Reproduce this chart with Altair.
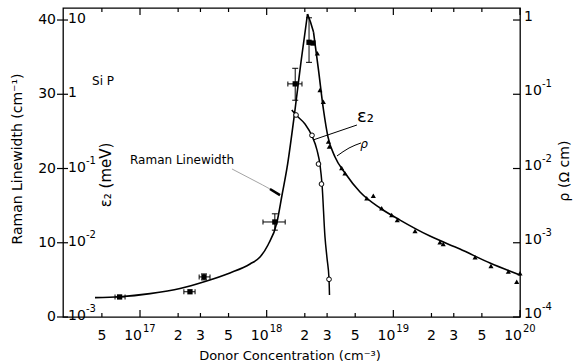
import altair as alt
import pandas as pd

# ---------------- Raman linewidth of the zone-centre phonon (cm^-1) ----------------
raman_conc = [6.9e16, 2.48e17, 3.2e17, 1.16e18, 1.68e18, 2.16e18, 2.32e18]
raman_width = [2.7, 3.4, 5.4, 12.8, 31.4, 37.0, 36.9]
raman_conc_lo = [6.35e16, 2.22e17, 2.93e17, 9.35e17, 1.47e18, 2.16e18, 2.32e18]
raman_conc_hi = [7.62e16, 2.72e17, 3.57e17, 1.40e18, 1.90e18, 2.16e18, 2.32e18]
raman_width_lo = [2.7, 3.4, 5.0, 11.7, 29.2, 34.3, 36.9]
raman_width_hi = [2.7, 3.4, 5.8, 13.9, 33.5, 40.3, 36.9]

# guide curve through the linewidth data (rising branch, then the drop after the peak)
raman_fit_conc = [4.41e16, 6.95e16, 1.20e17, 2.07e17, 3.26e17, 5.13e17, 7.39e17, 8.86e17,
                  1.024e18, 1.207e18, 1.322e18, 1.447e18, 1.673e18, 1.866e18, 2.101e18]
raman_fit_width = [2.61, 2.73, 3.15, 3.83, 4.78, 5.93, 7.14, 8.08,
                   9.70, 12.80, 16.43, 20.07, 27.88, 34.35, 40.81]
raman_fall_conc = [2.101e18, 2.218e18, 2.343e18]
raman_fall_width = [40.81, 39.74, 38.39]

# ---------------- epsilon_2 activation energy (meV) ----------------
eps_conc = [1.705e18, 2.279e18, 2.565e18, 2.709e18, 3.106e18]
eps_val = [0.526, 0.28, 0.115, 0.0618, 0.00322]
eps_fit_conc = [1.578e18, 1.705e18, 2.007e18, 2.279e18, 2.497e18, 2.638e18, 2.734e18,
                2.887e18, 2.995e18, 3.106e18, 3.133e18]
eps_fit_val = [0.614, 0.526, 0.397, 0.274, 0.177, 0.111, 0.0618,
               0.0119, 0.0062, 0.00325, 0.00198]

# ---------------- resistivity (Ohm cm) ----------------
rho_conc = [2.512e18, 2.636e18, 2.80e18, 3.07e18, 3.12e18, 3.91e18, 4.15e18, 6.17e18,
            6.95e18, 8.09e18, 9.70e18, 1.074e19, 1.483e19, 2.333e19, 2.477e19, 4.42e19,
            5.90e19, 8.09e19, 1.0e20, 9.42e19]
rho_val = [0.356, 0.114, 0.0794, 0.0230, 0.0197, 0.01016, 0.00863, 0.00397,
           0.0043, 0.00291, 0.00236, 0.00202, 0.00144, 0.001014, 0.000962, 0.000637,
           0.000486, 0.000408, 0.000388, 0.000299]
rho_fit_conc = [2.343e18, 2.566e18, 2.810e18, 3.050e18, 3.464e18, 4.154e18, 5.458e18,
                7.852e18, 1.130e19, 1.945e19, 3.357e19, 5.794e19, 1.0e20]
rho_fit_val = [0.689, 0.212, 0.0614, 0.0265, 0.01429, 0.00869, 0.00483,
               0.00294, 0.00202, 0.00123, 0.000824, 0.000533, 0.000368]

# ---------------- ticks and tick labels ----------------
x_tick_vals = [5e16, 1e17, 2e17, 3e17, 5e17, 1e18, 2e18, 3e18, 5e18, 1e19, 2e19, 3e19, 5e19, 1e20]
x_tick_base = ["5", "10", "2", "3", "5", "10", "2", "3", "5", "10", "2", "3", "5", "10"]
x_tick_exp = ["", "17", "", "", "", "18", "", "", "", "19", "", "", "", "20"]
lin_tick_vals = [0, 10, 20, 30, 40]
eps_tick_vals = [10, 1, 0.1, 0.01, 0.001]
eps_tick_base = ["10", "1", "10", "10", "10"]
eps_tick_exp = ["", "", "-1", "-2", "-3"]
rho_tick_vals = [1, 0.1, 0.01, 0.001, 0.0001]
rho_tick_base = ["1", "10", "10", "10", "10"]
rho_tick_exp = ["", "-1", "-2", "-3", "-4"]

# ---------------- annotation leaders (concentration, linewidth units) ----------------
raman_lead_conc = [5.32e17, 8.09e17, 1.062e18, 1.274e18]
raman_lead_y = [19.94, 18.32, 17.24, 16.43]
eps_lead_conc = [5.16e18, 2.322e18]
eps_lead_y = [25.86, 23.84]
rho_lead_conc = [5.555e18, 4.467e18, 3.592e18]
rho_lead_y = [23.44, 22.76, 21.69]

W, H = 457, 309
FONT = "DejaVu Sans"
INK = "#000000"

x_sc = alt.Scale(type="log", domain=[10 ** 16.392, 1e20], nice=False)
lin_sc = alt.Scale(domain=[0, 41.62], nice=False, zero=False)
eps_sc = alt.Scale(type="log", domain=[1e-3, 10 ** 1.162], nice=False)
rho_sc = alt.Scale(type="log", domain=[1e-4, 10 ** 0.162], nice=False)


def X(f):
    return alt.X(f"{f}:Q", scale=x_sc, axis=None)


def Y(f, sc):
    return alt.Y(f"{f}:Q", scale=sc, axis=None)


def txt(**kw):
    base = dict(font=FONT, color=INK, fontSize=14, opacity=1)
    base.update(kw)
    return base


one = pd.DataFrame({"k": [0]})

# data tables
raman_df = pd.DataFrame(dict(conc=raman_conc, w=raman_width, clo=raman_conc_lo,
                             chi=raman_conc_hi, wlo=raman_width_lo, whi=raman_width_hi))
h_err = raman_df[raman_df.chi > raman_df.clo]
v_err = raman_df[raman_df.whi > raman_df.wlo]
h_caps = pd.DataFrame({"cx": list(h_err.clo) + list(h_err.chi), "w": list(h_err.w) * 2})
v_caps = pd.DataFrame({"conc": list(v_err.conc) * 2, "cy": list(v_err.wlo) + list(v_err.whi)})
raman_fit = pd.DataFrame(dict(conc=raman_fit_conc, w=raman_fit_width))
raman_fall = pd.DataFrame(dict(conc=raman_fall_conc, w=raman_fall_width))
eps_df = pd.DataFrame(dict(conc=eps_conc, v=eps_val))
eps_fit = pd.DataFrame(dict(conc=eps_fit_conc, v=eps_fit_val))
rho_df = pd.DataFrame(dict(conc=rho_conc, v=rho_val))
rho_fit = pd.DataFrame(dict(conc=rho_fit_conc, v=rho_fit_val))

xt = pd.DataFrame(dict(v=x_tick_vals, base=x_tick_base, exp=x_tick_exp))
xt["major"] = xt["exp"] != ""
x_major = xt[xt.major]
x_minor = xt[~xt.major]
lin_t = pd.DataFrame(dict(v=lin_tick_vals))
eps_t = pd.DataFrame(dict(v=eps_tick_vals, base=eps_tick_base, exp=eps_tick_exp))
rho_t = pd.DataFrame(dict(v=rho_tick_vals, base=rho_tick_base, exp=rho_tick_exp))

layers = []

# ---- frame ticks ----
layers.append(alt.Chart(x_major).mark_rule(color=INK, strokeWidth=1.2).encode(
    x=X("v"), y=alt.value(H), y2=alt.value(H - 7)))
layers.append(alt.Chart(x_minor).mark_rule(color=INK, strokeWidth=1.2).encode(
    x=X("v"), y=alt.value(H), y2=alt.value(H - 4)))
layers.append(alt.Chart(x_major).mark_rule(color=INK, strokeWidth=1.2).encode(
    x=X("v"), y=alt.value(0), y2=alt.value(7)))
layers.append(alt.Chart(x_minor).mark_rule(color=INK, strokeWidth=1.2).encode(
    x=X("v"), y=alt.value(0), y2=alt.value(4)))
layers.append(alt.Chart(lin_t).mark_rule(color=INK, strokeWidth=1.2).encode(
    y=Y("v", lin_sc), x=alt.value(-6), x2=alt.value(5)))
layers.append(alt.Chart(rho_t).mark_rule(color=INK, strokeWidth=1.2).encode(
    y=Y("v", rho_sc), x=alt.value(W - 7), x2=alt.value(W)))

# ---- tick labels ----
layers.append(alt.Chart(x_minor).mark_text(**txt(align="center", baseline="middle")).encode(
    x=X("v"), y=alt.value(H + 19), text="base:N"))
layers.append(alt.Chart(x_major).mark_text(**txt(align="right", baseline="middle", dx=2)).encode(
    x=X("v"), y=alt.value(H + 19), text="base:N"))
layers.append(alt.Chart(x_major).mark_text(**txt(align="left", baseline="middle", dx=3, dy=-7,
                                                  fontSize=10)).encode(
    x=X("v"), y=alt.value(H + 19), text="exp:N"))
layers.append(alt.Chart(lin_t).mark_text(**txt(align="right", baseline="middle")).encode(
    y=Y("v", lin_sc), x=alt.value(-7), text=alt.Text("v:Q", format="d")))
layers.append(alt.Chart(eps_t).mark_text(**txt(align="left", baseline="middle", dy=-1)).encode(
    y=Y("v", eps_sc), x=alt.value(5), text="base:N"))
layers.append(alt.Chart(eps_t).mark_text(**txt(align="left", baseline="middle", dx=18, dy=-8,
                                               fontSize=10)).encode(
    y=Y("v", eps_sc), x=alt.value(5), text="exp:N"))
layers.append(alt.Chart(rho_t).mark_text(**txt(align="left", baseline="middle", dy=-3)).encode(
    y=Y("v", rho_sc), x=alt.value(W + 4), text="base:N"))
layers.append(alt.Chart(rho_t).mark_text(**txt(align="left", baseline="middle", dx=18, dy=-10,
                                               fontSize=10)).encode(
    y=Y("v", rho_sc), x=alt.value(W + 4), text="exp:N"))

# ---- axis titles ----
layers.append(alt.Chart(one).mark_text(**txt(text="Raman Linewidth (cm\u207b\u00b9)", angle=270,
                                             fontSize=14, align="center", baseline="middle")).encode(
    x=alt.value(-45), y=alt.value(151)))
layers.append(alt.Chart(one).mark_text(**txt(text="\u03b5\u2082 (meV)", angle=270,
                                             fontSize=15, align="center", baseline="middle")).encode(
    x=alt.value(43), y=alt.value(167)))
layers.append(alt.Chart(one).mark_text(**txt(text="\u03c1 (\u03a9 cm)", angle=270,
                                             fontSize=14, align="center", baseline="middle")).encode(
    x=alt.value(W + 45), y=alt.value(163)))
layers.append(alt.Chart(one).mark_text(**txt(text="Donor Concentration (cm\u207b\u00b3)",
                                             fontSize=13, align="center", baseline="middle")).encode(
    x=alt.value(227), y=alt.value(H + 39)))

# ---- curves ----
layers.append(alt.Chart(raman_fit).mark_line(color=INK, strokeWidth=1.6, interpolate="monotone").encode(
    x=X("conc"), y=Y("w", lin_sc)))
layers.append(alt.Chart(raman_fall).mark_line(color=INK, strokeWidth=1.6).encode(
    x=X("conc"), y=Y("w", lin_sc)))
layers.append(alt.Chart(eps_fit).mark_line(color=INK, strokeWidth=1.5, interpolate="monotone").encode(
    x=X("conc"), y=Y("v", eps_sc)))
layers.append(alt.Chart(rho_fit).mark_line(color=INK, strokeWidth=1.6, interpolate="monotone").encode(
    x=X("conc"), y=Y("v", rho_sc)))

# ---- Raman error bars and points ----
layers.append(alt.Chart(h_err).mark_rule(color=INK, strokeWidth=1).encode(
    x=X("clo"), x2="chi:Q", y=Y("w", lin_sc)))
layers.append(alt.Chart(h_caps).mark_tick(color=INK, orient="vertical", size=5, thickness=1,
                                          opacity=1).encode(
    x=X("cx"), y=Y("w", lin_sc)))
layers.append(alt.Chart(v_err).mark_rule(color=INK, strokeWidth=1).encode(
    x=X("conc"), y=Y("wlo", lin_sc), y2="whi:Q"))
layers.append(alt.Chart(v_caps).mark_tick(color=INK, orient="horizontal", size=6, thickness=1,
                                          opacity=1).encode(
    x=X("conc"), y=Y("cy", lin_sc)))
layers.append(alt.Chart(raman_df).mark_square(color=INK, size=28, opacity=1).encode(
    x=X("conc"), y=Y("w", lin_sc)))

# ---- epsilon_2 and resistivity points ----
layers.append(alt.Chart(eps_df).mark_point(shape="circle", size=22, filled=True, fill="white",
                                           stroke=INK, strokeWidth=1, opacity=1).encode(
    x=X("conc"), y=Y("v", eps_sc)))
layers.append(alt.Chart(rho_df).mark_point(shape="triangle-up", size=26, filled=True, color=INK,
                                           opacity=1).encode(
    x=X("conc"), y=Y("v", rho_sc)))

# ---- annotations ----
raman_lead = pd.DataFrame(dict(conc=raman_lead_conc, y=raman_lead_y))
eps_lead = pd.DataFrame(dict(conc=eps_lead_conc, y=eps_lead_y))
rho_lead = pd.DataFrame(dict(conc=rho_lead_conc, y=rho_lead_y))
layers.append(alt.Chart(raman_lead).mark_line(color="#9a9a9a", strokeWidth=0.9, interpolate="monotone").encode(
    x=X("conc"), y=Y("y", lin_sc)))
layers.append(alt.Chart(raman_lead.tail(2)).mark_line(color=INK, strokeWidth=2.6).encode(
    x=X("conc"), y=Y("y", lin_sc)))
layers.append(alt.Chart(eps_lead).mark_line(color=INK, strokeWidth=1).encode(
    x=X("conc"), y=Y("y", lin_sc)))
layers.append(alt.Chart(rho_lead).mark_line(color=INK, strokeWidth=1, interpolate="monotone").encode(
    x=X("conc"), y=Y("y", lin_sc)))

labels = pd.DataFrame(dict(conc=[8.34e16, 4.18e16], y=[21.15, 31.79], t=["Raman Linewidth", "Si P"]))
layers.append(alt.Chart(labels).mark_text(**txt(align="left", baseline="middle", fontSize=12)).encode(
    x=X("conc"), y=Y("y", lin_sc), text="t:N"))
layers.append(alt.Chart(pd.DataFrame(dict(conc=[5.16e18], y=[26.94]))).mark_text(
    **txt(text="\u03b5\u2082", align="left", baseline="middle", fontSize=18)).encode(
    x=X("conc"), y=Y("y", lin_sc)))
layers.append(alt.Chart(pd.DataFrame(dict(conc=[5.875e18], y=[23.30]))).mark_text(
    **txt(text="\u03c1", align="center", baseline="middle", fontSize=12, fontStyle="italic")).encode(
    x=X("conc"), y=Y("y", lin_sc)))

chart = alt.layer(*layers).resolve_scale(y="independent").properties(
    width=W, height=H,
    padding={"left": 63, "top": 8, "right": 53, "bottom": 47},
    autosize=alt.AutoSizeParams(type="none"),
    background="white",
).configure_view(stroke=INK, strokeWidth=1.3)

chart.save("out.html", embed_options={"renderer": "svg", "actions": False})
